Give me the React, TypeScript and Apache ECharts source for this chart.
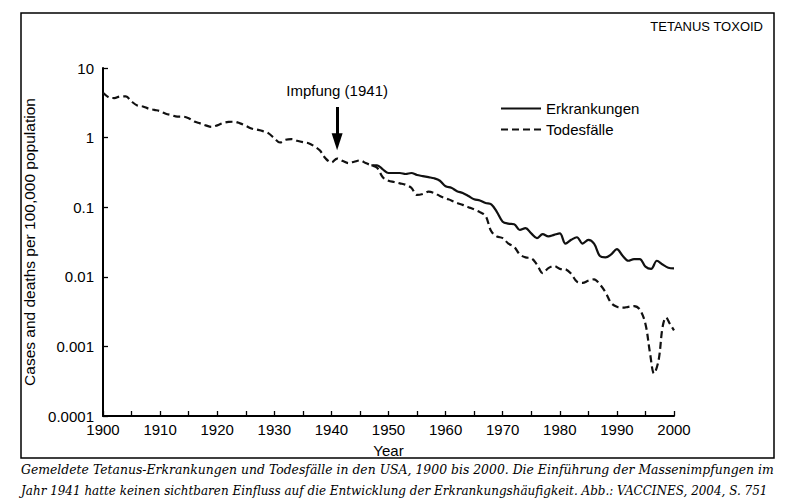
import React, { useEffect, useRef } from 'react';
import * as echarts from 'echarts';

const deathYears = [
  1900, 1901, 1902, 1903, 1904, 1905, 1906, 1907, 1908, 1909,
  1910, 1911, 1912, 1913, 1914, 1915, 1916, 1917, 1918, 1919,
  1920, 1921, 1922, 1923, 1924, 1925, 1926, 1927, 1928, 1929,
  1930, 1931, 1932, 1933, 1934, 1935, 1936, 1937, 1938, 1939,
  1940, 1941, 1942, 1943, 1944, 1945, 1946, 1947, 1948, 1949,
  1950, 1951, 1952, 1953, 1954, 1955, 1956, 1957, 1958, 1959,
  1960, 1961, 1962, 1963, 1964, 1965, 1966, 1967, 1968, 1969,
  1970, 1971, 1972, 1973, 1974, 1975, 1976, 1977, 1978, 1979,
  1980, 1981, 1982, 1983, 1984, 1985, 1986, 1987, 1988, 1989,
  1990, 1991, 1992, 1993, 1994, 1995, 1995.8, 1996.5, 1997.3, 1998,
  1998.6, 1999.3, 2000,
];
const deathRates = [
  4.4, 3.8, 3.7, 3.9, 3.9, 3.3, 2.9, 2.8, 2.6, 2.5,
  2.4, 2.2, 2.1, 2.0, 2.0, 1.9, 1.7, 1.6, 1.5, 1.43,
  1.5, 1.62, 1.68, 1.69, 1.6, 1.48, 1.35, 1.3, 1.24, 1.15,
  0.98, 0.85, 0.93, 0.95, 0.9, 0.86, 0.83, 0.75, 0.65, 0.5,
  0.44, 0.5, 0.46, 0.43, 0.45, 0.47, 0.43, 0.4, 0.37, 0.27,
  0.24, 0.23, 0.22, 0.21, 0.19, 0.15, 0.155, 0.167, 0.16, 0.145,
  0.134, 0.125, 0.115, 0.108, 0.1, 0.093, 0.085, 0.075, 0.045, 0.038,
  0.036, 0.03, 0.027, 0.021, 0.019, 0.0185, 0.015, 0.0113, 0.0133, 0.0143,
  0.013, 0.0128, 0.011, 0.0085, 0.0082, 0.0088, 0.0092, 0.0078, 0.006, 0.0042,
  0.0037, 0.0036, 0.0037, 0.0038, 0.0034, 0.0021, 0.0008, 0.00041, 0.00063, 0.0019,
  0.0026, 0.0021, 0.0017,
];

const caseYears = [
  1947, 1948, 1949,
  1950, 1951, 1952, 1953, 1954, 1955, 1956, 1957, 1958, 1959,
  1960, 1961, 1962, 1963, 1964, 1965, 1966, 1967, 1968, 1969,
  1970, 1971, 1972, 1973, 1974, 1975, 1976, 1977, 1978, 1979,
  1980, 1981, 1982, 1983, 1984, 1985, 1986, 1987, 1988, 1989,
  1990, 1991, 1992, 1993, 1994, 1995, 1996, 1997, 1998, 1999,
  2000,
];
const caseRates = [
  0.4, 0.4, 0.35,
  0.31, 0.31, 0.31, 0.3, 0.31, 0.29, 0.28, 0.27, 0.26, 0.24,
  0.2, 0.19, 0.17, 0.16, 0.145, 0.13, 0.125, 0.115, 0.11, 0.085,
  0.062, 0.058, 0.057, 0.047, 0.05, 0.042, 0.036, 0.041, 0.038, 0.04,
  0.042, 0.03, 0.034, 0.037, 0.03, 0.034, 0.03, 0.02, 0.019, 0.021,
  0.025, 0.02, 0.017, 0.018, 0.018, 0.014, 0.013, 0.017, 0.015, 0.0135,
  0.0132,
];

const yTickLabels = ['0.0001', '0.001', '0.01', '0.1', '1', '10'];
const vaccinationYear = 1941;
const arrowFrom = 2.75;
const arrowTo = 0.87;

const captionLines = [
  'Gemeldete Tetanus-Erkrankungen und Todesfälle in den USA, 1900 bis 2000. Die Einführung der Massenimpfungen im',
  'Jahr 1941 hatte keinen sichtbaren Einfluss auf die Entwicklung der Erkrankungshäufigkeit. Abb.: VACCINES, 2004, S. 751',
];

const SANS = '"Liberation Sans", Arial, sans-serif';
const CAPTION_FONT = 'italic 13px "DejaVu Serif", serif';

function measure(text: string, font: string): number {
  const c = document.createElement('canvas');
  const ctx = c.getContext('2d');
  if (!ctx) return 0;
  ctx.font = font;
  return ctx.measureText(text).width;
}

export default function App() {
  const ref = useRef<HTMLDivElement>(null);
  useEffect(() => {
    document.body.style.margin = '0';
    const chart = echarts.init(ref.current!, null, { renderer: 'svg' });
    const captionTargets = [753, 747];
    const captionScale = captionLines.map((t, i) => {
      const w = measure(t, CAPTION_FONT);
      return w > 0 ? captionTargets[i] / w : 1;
    });
    chart.setOption({
      animation: false,
      backgroundColor: '#ffffff',
      textStyle: { fontFamily: SANS },
      grid: { left: 103, right: 120, top: 68, bottom: 85 },
      legend: {
        orient: 'vertical',
        left: 496,
        top: 96,
        itemWidth: 40,
        itemHeight: 12,
        itemGap: 6,
        textStyle: { fontSize: 15, color: '#000', fontFamily: SANS },
        data: [
          { name: 'Erkrankungen', icon: 'path://M0,0H40V2H0Z' },
          {
            name: 'Todesfälle',
            icon: 'path://M0,0H7V2H0Z M11,0H18V2H11Z M22,0H29V2H22Z M33,0H40V2H33Z',
          },
        ],
      },
      xAxis: {
        type: 'value',
        min: 1900,
        max: 2000,
        interval: 5,
        name: 'Year',
        nameLocation: 'middle',
        nameGap: 27,
        nameTextStyle: { fontSize: 15, color: '#000' },
        axisLine: { show: true, lineStyle: { color: '#000', width: 2 } },
        axisTick: { show: true, inside: true, length: 5, lineStyle: { color: '#000', width: 1.3 } },
        axisLabel: {
          fontSize: 15,
          color: '#000',
          margin: 6,
          formatter: (v: number) => (v % 10 === 0 ? String(v) : ''),
        },
        splitLine: { show: false },
      },
      yAxis: {
        type: 'log',
        logBase: 10,
        min: 0.0001,
        max: 10,
        name: 'Cases and deaths per 100,000 population',
        nameLocation: 'middle',
        nameGap: 63,
        nameTextStyle: { fontSize: 15.5, color: '#000' },
        axisLine: { show: true, lineStyle: { color: '#000', width: 2 } },
        axisTick: { show: true, inside: true, length: 5, lineStyle: { color: '#000', width: 1.3 } },
        axisLabel: {
          fontSize: 15,
          color: '#000',
          margin: 9,
          formatter: (v: number) => yTickLabels[Math.round(Math.log10(v)) + 4] ?? '',
        },
        splitLine: { show: false },
      },
      series: [
        {
          name: 'Erkrankungen',
          type: 'line',
          smooth: 0.35,
          symbol: 'none',
          showSymbol: false,
          data: caseYears.map((y, i) => [y, caseRates[i]]),
          lineStyle: { color: '#111', width: 2.2, type: 'solid' },
          itemStyle: { color: '#111' },
          z: 3,
        },
        {
          name: 'Todesfälle',
          type: 'line',
          smooth: 0.35,
          symbol: 'none',
          showSymbol: false,
          data: deathYears.map((y, i) => [y, deathRates[i]]),
          lineStyle: { color: '#111', width: 2.2, type: [7, 4] },
          itemStyle: { color: '#111' },
          z: 2,
          markLine: {
            silent: true,
            symbol: ['none', 'triangle'],
            symbolSize: [11, 17],
            lineStyle: { type: 'solid', width: 3, color: '#000' },
            label: {
              show: true,
              position: 'start',
              formatter: 'Impfung (1941)',
              fontSize: 15,
              color: '#000',
              fontFamily: SANS,
              distance: 9,
            },
            data: [[{ coord: [vaccinationYear, arrowFrom] }, { coord: [vaccinationYear, arrowTo] }]],
          },
        },
      ],
      graphic: [
        {
          type: 'rect',
          shape: { x: 21, y: 13, width: 753, height: 445 },
          style: { fill: 'none', stroke: '#000', lineWidth: 1.5 },
          silent: true,
        },
        {
          type: 'text',
          x: 763,
          y: 26,
          style: {
            text: 'TETANUS TOXOID',
            fill: '#000',
            font: `13px ${SANS}`,
            textAlign: 'right',
            textVerticalAlign: 'middle',
          },
        },
        ...captionLines.map((t, i) => ({
          type: 'text',
          x: 21,
          y: 469 + i * 21,
          scaleX: captionScale[i],
          style: {
            text: t,
            fill: '#000',
            font: CAPTION_FONT,
            textAlign: 'left',
            textVerticalAlign: 'middle',
          },
        })),
      ],
    });
    return () => chart.dispose();
  }, []);
  return <div ref={ref} style={{ width: 794, height: 501, background: '#fff' }} />;
}
